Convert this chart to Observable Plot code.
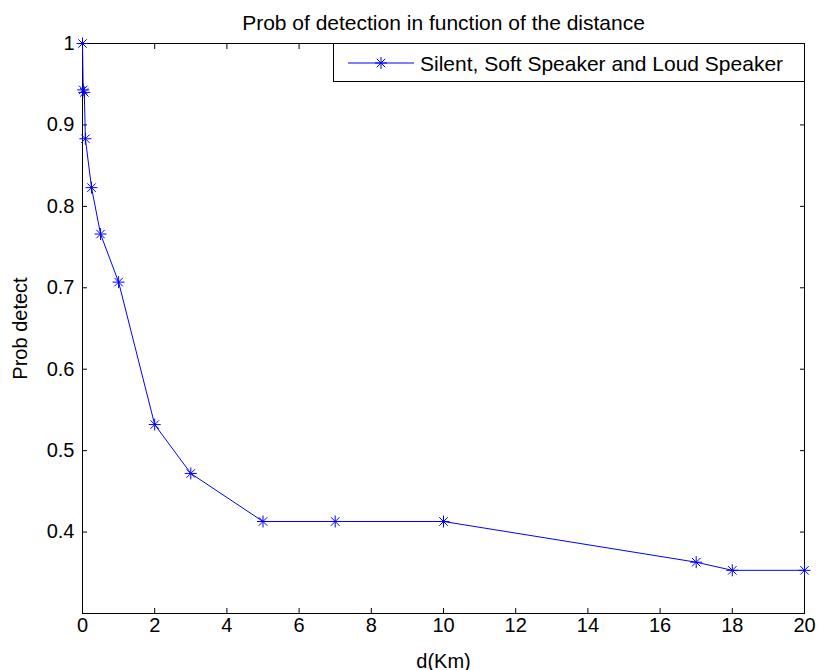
<!DOCTYPE html>
<html>
<head>
<meta charset="utf-8">
<script src="https://cdn.jsdelivr.net/npm/d3@7"></script>
<script src="https://cdn.jsdelivr.net/npm/@observablehq/plot@0.6"></script>
<style>
  body { margin: 0; background: #fff; }
  #wrap { position: relative; width: 819px; height: 670px; overflow: hidden; font-family: "Liberation Sans", Arial, sans-serif; }
  #legend { position: absolute; left: 333px; top: 43px; width: 470px; height: 37px; border: 1px solid #000; background: #fff; }
</style>
</head>
<body>
<div id="wrap"></div>
<script>
// ---- data ----
const distanceKm = [0, 0.02, 0.05, 0.08, 0.25, 0.5, 1, 2, 3, 5, 7, 10, 17, 18, 20];
const probDetect = [1, 0.943, 0.94, 0.883, 0.823, 0.766, 0.707, 0.532, 0.472, 0.413, 0.413, 0.413, 0.363, 0.353, 0.353];
const xTicks = [0, 2, 4, 6, 8, 10, 12, 14, 16, 18, 20];
const yTicks = [0.4, 0.5, 0.6, 0.7, 0.8, 0.9, 1];
const yTickLabels = ["0.4", "0.5", "0.6", "0.7", "0.8", "0.9", "1"];
const seriesName = "Silent, Soft Speaker and Loud Speaker";
const titleText = "Prob of detection in function of the distance";
const xLabel = "d(Km)";
const yLabel = "Prob detect";

const blue = "#0000ff";
const font = '"Liberation Sans", Arial, sans-serif';

// MATLAB-style '*' marker: plus + cross
const star8 = {
  draw(ctx, size) {
    const r = Math.sqrt(size / Math.PI);
    const d = r * Math.SQRT1_2;
    ctx.moveTo(-r, 0); ctx.lineTo(r, 0);
    ctx.moveTo(0, -r); ctx.lineTo(0, r);
    ctx.moveTo(-d, -d); ctx.lineTo(d, d);
    ctx.moveTo(-d, d); ctx.lineTo(d, -d);
  }
};

const data = distanceKm.map((d, i) => ({d, p: probDetect[i]}));

const chart = Plot.plot({
  width: 819,
  height: 670,
  marginTop: 43,
  marginRight: 15,
  marginBottom: 57,
  marginLeft: 82,
  style: {fontFamily: font, fontSize: "20px", color: "#000", background: "#fff", overflow: "visible"},
  x: {domain: [0, 20]},
  y: {domain: [0.3, 1]},
  marks: [
    Plot.axisX(xTicks, {anchor: "bottom", tickSize: -5, text: null, label: null}),
    Plot.axisX(xTicks, {anchor: "top", tickSize: -5, text: null, label: null}),
    Plot.axisX(xTicks, {anchor: "bottom", tickSize: 0, tickPadding: 4, label: null, fontSize: 20}),
    Plot.axisY(yTicks, {anchor: "left", tickSize: -5, text: null, label: null}),
    Plot.axisY(yTicks, {anchor: "right", tickSize: -5, text: null, label: null}),
    Plot.axisY(yTicks, {anchor: "left", tickSize: 0, tickPadding: 8, label: null, fontSize: 20,
      tickFormat: (v) => yTickLabels[yTicks.indexOf(v)]}),
    Plot.frame({stroke: "#000", strokeWidth: 1}),
    Plot.line(data, {x: "d", y: "p", stroke: blue, strokeWidth: 1}),
    Plot.dot(data, {x: "d", y: "p", symbol: star8, r: 6, stroke: blue, fill: "none", strokeWidth: 1}),
    Plot.text([titleText], {frameAnchor: "top", dy: -14, lineAnchor: "bottom", fontSize: 21, fill: "#000"}),
    Plot.text([xLabel], {frameAnchor: "bottom", dy: 54, lineAnchor: "bottom", fontSize: 20, fill: "#000"}),
    Plot.text([yLabel], {frameAnchor: "left", dx: -62, rotate: -90, textAnchor: "middle", lineAnchor: "middle", fontSize: 20, fill: "#000"})
  ]
});

const wrap = document.getElementById("wrap");
wrap.appendChild(chart);

// legend box (MATLAB-style, inside the axes, top right)
const legend = d3.select(wrap).append("div").attr("id", "legend");
const lsvg = legend.append("svg").attr("width", 470).attr("height", 37).style("display", "block");
lsvg.append("line").attr("x1", 14).attr("x2", 80).attr("y1", 19).attr("y2", 19)
  .attr("stroke", blue).attr("stroke-width", 1);
lsvg.append("path").attr("transform", "translate(47,19)")
  .attr("d", d3.symbol(star8, Math.PI * 36)())
  .attr("stroke", blue).attr("fill", "none").attr("stroke-width", 1);
lsvg.append("text").attr("x", 86).attr("y", 27)
  .attr("font-family", font).attr("font-size", 21).attr("fill", "#000")
  .text(seriesName);
</script>
</body>
</html>
